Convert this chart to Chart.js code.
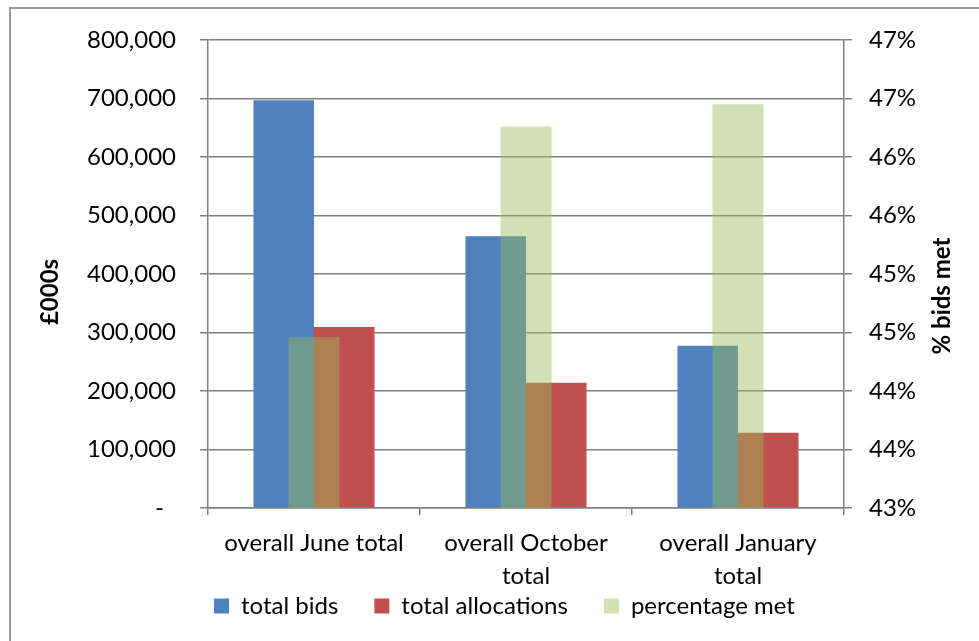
<!DOCTYPE html>
<html>
<head>
<meta charset="utf-8">
<script src="https://cdn.jsdelivr.net/npm/chart.js@4.4.1/dist/chart.umd.min.js"></script>
<style>
  html, body { margin: 0; padding: 0; background: #fff; overflow: hidden; }
  #wrap { position: relative; width: 979px; height: 641px; }
</style>
</head>
<body>
<div id="wrap"><canvas id="c"></canvas></div>
<script>
// ---- data ----
const categories = ['overall June total', ['overall October', 'total'], ['overall January', 'total']];
const seriesNames = ['total bids', 'total allocations', 'percentage met'];
const totalBids = [697000, 464500, 277300];
const totalAllocations = [309200, 214200, 128800];
const percentageMet = [44.46, 46.26, 46.45];
const leftTicks = { min: 0, max: 800000, step: 100000 };
const rightTicks = { min: 43, max: 47, step: 0.5 };
const leftTitle = '£000s';
const rightTitle = '% bids met';

// ---- styling ----
const FONT = 'Lato, "Open Sans", "Noto Sans", sans-serif';
const GRID = '#808080';
const TXT = '#000000';

const framePlugin = {
  id: 'frame',
  afterLayout(chart) {
    // let the wrapped category labels extend below the axis box
    if (chart.scales.x) chart.scales.x.bottom = chart.height;
  },
  beforeDraw(chart) {
    const ctx = chart.ctx;
    ctx.save();
    ctx.strokeStyle = '#9a9a9a';
    ctx.lineWidth = 2;
    ctx.strokeRect(10, 8, 2000, 2000);
    ctx.restore();
  },
  afterDraw(chart) {
    const ctx = chart.ctx;
    const drawTitle = (text, x, y) => {
      ctx.save();
      ctx.fillStyle = TXT;
      ctx.font = 'bold 24px ' + FONT;
      ctx.textAlign = 'center';
      ctx.textBaseline = 'middle';
      ctx.translate(x, y);
      ctx.rotate(-Math.PI / 2);
      ctx.fillText(text, 0, 0);
      ctx.restore();
    };
    drawTitle(leftTitle, 50, 292);
    drawTitle(rightTitle, 942, 296);
  }
};

new Chart(document.getElementById('c'), {
  type: 'bar',
  data: {
    labels: categories,
    datasets: [
      {
        label: seriesNames[0], data: totalBids, yAxisID: 'y',
        backgroundColor: '#4F81BD', borderWidth: 0,
        categoryPercentage: 0.571, barPercentage: 1, order: 1
      },
      {
        label: seriesNames[1], data: totalAllocations, yAxisID: 'y',
        backgroundColor: '#C0504D', borderWidth: 0,
        categoryPercentage: 0.571, barPercentage: 1, order: 1
      },
      {
        label: seriesNames[2], data: percentageMet, yAxisID: 'y1',
        backgroundColor: 'rgba(155,187,89,0.45)', borderWidth: 0,
        grouped: false, categoryPercentage: 1, barPercentage: 0.2406, order: 0
      }
    ]
  },
  options: {
    responsive: true,
    maintainAspectRatio: false,
    devicePixelRatio: 1,
    animation: false,
    layout: { padding: { top: 40, left: 30, right: 0, bottom: 13 } },
    plugins: {
      tooltip: { enabled: false },
      legend: {
        position: 'bottom',
        labels: {
          boxWidth: 15, boxHeight: 15, padding: 36, color: TXT,
          font: { family: FONT, size: 24 },
          sort: (a, b) => a.datasetIndex - b.datasetIndex
        }
      }
    },
    scales: {
      x: {
        offset: true,
        grid: { display: true, drawOnChartArea: false, drawTicks: true, tickLength: 7, color: GRID, lineWidth: 1.5, offset: true },
        border: { display: true, color: GRID, width: 1.5 },
        ticks: { color: TXT, padding: 11.5, maxRotation: 0, autoSkip: false, font: { family: FONT, size: 24, lineHeight: 1.375 } },
        afterFit(s) { s.height = 50; }
      },
      y: {
        position: 'left',
        min: leftTicks.min, max: leftTicks.max,
        grid: { color: GRID, lineWidth: 1.5, tickLength: 8, drawTicks: true },
        border: { display: true, color: GRID, width: 1.5 },
        ticks: {
          stepSize: leftTicks.step, color: TXT, padding: 24,
          font: { family: FONT, size: 24 },
          callback: v => v === 0 ? '-\u2002' : Number(v).toLocaleString('en-US')
        },
        afterFit(s) { s.width = 178; }
      },
      y1: {
        position: 'right',
        min: rightTicks.min, max: rightTicks.max,
        grid: { drawOnChartArea: false, color: GRID, lineWidth: 1.5, tickLength: 8, drawTicks: true },
        border: { display: true, color: GRID, width: 1.5 },
        ticks: {
          stepSize: rightTicks.step, color: TXT, padding: 17,
          font: { family: FONT, size: 24 },
          callback: v => Math.round(v) + '%'
        },
        afterFit(s) { s.width = 135; }
      }
    }
  },
  plugins: [framePlugin]
});
</script>
</body>
</html>
